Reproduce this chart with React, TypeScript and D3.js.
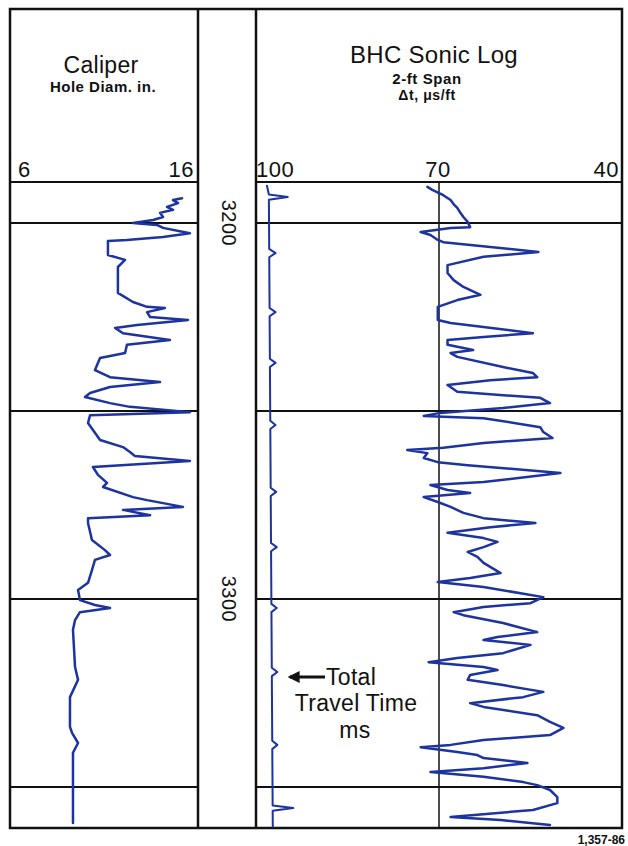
import React from "react";
import * as d3 from "d3";

// ---- Data ----
const caliperTicks = [6, 16];
const sonicTicks = [100, 70, 40];
const sonicGridValues = [70];
const gridDepths = [3200, 3250, 3300, 3350];
const depthLabels = [3200, 3300];

const caliperDepth = [
  3193.4, 3193.9, 3194.7, 3195.7, 3196.5, 3197.3, 3198.4, 3199.2, 3200.0, 3200.5,
  3201.3, 3202.7, 3203.7, 3204.5, 3204.8, 3208.5, 3209.8, 3211.7, 3218.6, 3221.0,
  3222.3, 3222.6, 3223.7, 3225.0, 3225.8, 3227.1, 3227.9, 3229.3, 3231.1, 3232.4,
  3234.6, 3235.9, 3239.1, 3241.0, 3242.3, 3243.6, 3245.2, 3246.3, 3247.9, 3248.9,
  3250.3, 3251.1, 3253.2, 3257.7, 3259.6, 3260.9, 3262.0, 3263.3, 3264.9, 3267.0,
  3269.1, 3270.2, 3272.9, 3273.7, 3275.5, 3276.3, 3277.7, 3278.5, 3279.8, 3284.3,
  3287.0, 3288.3, 3289.6, 3292.3, 3295.7, 3297.6, 3300.3, 3301.6, 3302.4, 3303.5,
  3305.6, 3308.2, 3318.1, 3321.5, 3326.1, 3334.0, 3335.6, 3338.3, 3340.9, 3348.9,
  3359.6,
];
const caliperIn = [
  15.15, 14.67, 14.94, 14.35, 14.67, 13.98, 14.14, 13.61, 12.54, 13.82,
  14.14, 15.57, 14.14, 12.22, 11.21, 11.21, 12.12, 11.74, 11.74, 12.54,
  13.29, 14.24, 13.29, 13.45, 15.47, 12.76, 11.59, 12.01, 14.51, 12.22,
  12.12, 10.79, 10.52, 11.32, 13.98, 11.32, 10.26, 9.99, 11.32, 12.38,
  15.57, 10.26, 10.15, 10.79, 12.01, 12.38, 12.65, 15.57, 10.41, 10.68,
  11.16, 10.95, 12.54, 13.29, 15.2, 12.01, 13.45, 10.15, 10.15, 10.36,
  11.05, 11.32, 10.52, 10.36, 10.15, 9.62, 9.72, 10.52, 11.32, 9.72,
  9.46, 9.35, 9.46, 9.62, 9.19, 9.19, 9.3, 9.62, 9.35, 9.35,
  9.35,
];

const sonicDepth = [
  3190.4, 3191.2, 3192.6, 3193.9, 3195.2, 3196.0, 3197.3, 3198.4, 3199.7, 3201.1,
  3201.3, 3202.4, 3203.2, 3204.5, 3205.1, 3207.7, 3209.0, 3211.2, 3213.3, 3215.2,
  3217.0, 3219.1, 3220.5, 3222.3, 3225.8, 3226.6, 3229.3, 3230.3, 3231.1, 3232.4,
  3233.8, 3234.6, 3235.6, 3238.3, 3239.9, 3241.0, 3241.8, 3243.1, 3244.9, 3246.5,
  3247.9, 3249.2, 3250.5, 3251.3, 3251.9, 3254.3, 3255.6, 3257.2, 3258.5, 3259.8,
  3260.4, 3261.2, 3262.5, 3263.6, 3264.4, 3266.5, 3268.9, 3269.7, 3271.0, 3271.8,
  3272.9, 3274.2, 3275.5, 3277.1, 3278.5, 3279.8, 3280.9, 3282.4, 3283.8, 3284.8,
  3286.2, 3287.5, 3288.8, 3290.4, 3293.1, 3294.4, 3295.5, 3296.8, 3299.5, 3301.1,
  3302.1, 3303.5, 3304.3, 3306.4, 3308.8, 3310.1, 3310.9, 3312.2, 3314.4, 3315.7,
  3316.8, 3318.1, 3318.9, 3320.2, 3321.5, 3322.9, 3324.7, 3326.1, 3327.7, 3328.7,
  3330.9, 3332.7, 3334.3, 3336.2, 3337.5, 3338.8, 3339.4, 3340.7, 3341.5, 3342.3,
  3343.6, 3345.0, 3346.0, 3347.3, 3348.7, 3349.5, 3350.8, 3352.7, 3354.3, 3356.1,
  3358.0, 3358.8, 3360.1,
];
const sonicDt = [
  71.9, 71.1, 69.3, 68.1, 67.5, 67.0, 66.5, 66.0, 65.3, 64.9,
  68.1, 73.0, 71.4, 70.2, 69.3, 53.7, 62.7, 68.6, 68.6, 67.6,
  66.0, 63.2, 67.0, 70.2, 70.2, 68.1, 54.6, 62.7, 68.6, 68.6,
  64.4, 68.1, 67.0, 59.5, 54.6, 53.9, 61.6, 68.6, 67.0, 53.4,
  51.8, 59.5, 69.8, 72.5, 62.7, 53.4, 52.9, 51.4, 62.7, 69.3,
  75.2, 71.9, 72.5, 70.2, 65.3, 50.1, 62.7, 71.4, 68.6, 64.9,
  72.5, 70.2, 68.1, 66.0, 62.7, 54.2, 61.6, 68.6, 62.7, 60.4,
  62.7, 65.3, 63.7, 62.7, 59.9, 64.9, 70.2, 62.7, 52.9, 55.0,
  62.7, 67.6, 66.0, 59.5, 53.9, 60.4, 62.7, 55.0, 59.5, 67.0,
  71.7, 62.7, 60.4, 64.9, 65.3, 59.5, 52.9, 56.2, 64.9, 62.7,
  53.9, 51.8, 49.6, 51.8, 62.7, 68.1, 73.0, 67.0, 63.7, 62.7,
  55.5, 62.7, 71.4, 62.7, 56.2, 53.9, 51.8, 50.6, 50.6, 54.6,
  68.1, 59.9, 51.8,
];

// Total travel time trace (plotted on the sonic track)
const tttBaseDepth = [3190.1, 3360.6];
const tttBaseValue = [97.9, 97.25];
const tttPipDepth = [3193.1, 3208.0, 3223.7, 3237.2, 3253.7, 3271.5, 3286.2, 3302.4, 3319.4, 3338.8, 3355.6];
const tttPipValue = [94.8, 96.8, 96.8, 96.8, 96.8, 96.7, 96.6, 96.6, 96.5, 96.5, 93.9];

// ---- Layout ----
const W = 628;
const H = 846;
const L = 10, T = 9, R = 622, B = 828, HB = 182;
const T1R = 198, T3L = 256;
const FONT = "'Liberation Sans', Arial, Helvetica, sans-serif";
const BLUE = "#1c33a0";

export default function App() {
  const y = d3.scaleLinear().domain([3200, 3300]).range([223, 599]);
  const xc = d3.scaleLinear().domain([6, 16]).range([L, T1R]);
  const xs = d3.scaleLinear().domain([100, 40]).range([T3L, R]);

  const caliperPts = caliperDepth.map((d, i) => [caliperIn[i], d] as [number, number]);
  const sonicPts = sonicDepth.map((d, i) => [sonicDt[i], d] as [number, number]);

  const base = d3.scaleLinear().domain(tttBaseDepth).range(tttBaseValue);
  const tttPts: [number, number][] = [[base(tttBaseDepth[0]) + 0.3, tttBaseDepth[0]]];
  tttPipDepth.forEach((d, i) => {
    const big = i === 0 || i === tttPipDepth.length - 1;
    const h = big ? 0.7 : 1.1;
    tttPts.push([base(d - h), d - h]);
    tttPts.push([tttPipValue[i], d]);
    tttPts.push([base(d + h), d + h]);
  });
  tttPts.push([base(tttBaseDepth[1]), tttBaseDepth[1]]);

  const lineC = d3.line<[number, number]>().x((p) => xc(p[0])).y((p) => y(p[1]));
  const lineS = d3.line<[number, number]>().x((p) => xs(p[0])).y((p) => y(p[1]));

  return (
    <svg width={W} height={H} style={{ position: "absolute", left: 0, top: 0, background: "#fff" }} fontFamily={FONT}>
      <defs>
        <clipPath id="clipC"><rect x={L} y={HB} width={T1R - L} height={B - HB} /></clipPath>
        <clipPath id="clipS"><rect x={T3L} y={HB} width={R - T3L} height={B - HB} /></clipPath>
        <marker id="arrow" viewBox="0 0 10 10" refX="8" refY="5" markerWidth="4" markerHeight="4" orient="auto">
          <path d="M0,0 L10,5 L0,10 z" fill="#111" />
        </marker>
      </defs>

      {/* grid lines */}
      {gridDepths.map((d) => (
        <g key={d} stroke="#111" strokeWidth={1.8}>
          <line x1={L} x2={T1R} y1={y(d)} y2={y(d)} />
          <line x1={T3L} x2={R} y1={y(d)} y2={y(d)} />
        </g>
      ))}
      {sonicGridValues.map((v) => (
        <line key={v} x1={xs(v)} x2={xs(v)} y1={HB} y2={B} stroke="#111" strokeWidth={1.5} />
      ))}

      {/* frame */}
      <g stroke="#111" fill="none">
        <rect x={L} y={T} width={R - L} height={B - T} strokeWidth={2.5} />
        <line x1={T1R} x2={T1R} y1={T} y2={B} strokeWidth={2.5} />
        <line x1={T3L} x2={T3L} y1={T} y2={B} strokeWidth={2.5} />
        <line x1={L} x2={T1R} y1={HB} y2={HB} strokeWidth={2.2} />
        <line x1={T3L} x2={R} y1={HB} y2={HB} strokeWidth={2.2} />
      </g>

      {/* headers */}
      <g fill="#111" textAnchor="middle">
        <text x={101} y={73} fontSize={23} letterSpacing={0.3}>Caliper</text>
        <text x={103} y={92} fontSize={15} fontWeight={700} letterSpacing={0.5}>Hole Diam. in.</text>
        <text x={434} y={63} fontSize={24} letterSpacing={0.3}>BHC Sonic Log</text>
        <text x={427} y={84} fontSize={15} fontWeight={700} letterSpacing={0.6}>2-ft Span</text>
        <text x={427} y={100} fontSize={14} fontWeight={700} letterSpacing={0.6}>Δt, μs/ft</text>
      </g>
      <g fill="#111" fontSize={22} letterSpacing={0.5}>
        {caliperTicks.map((v, i) => (
          <text key={v} x={xc(v) + (i === 0 ? 8 : -4)} y={177} textAnchor={i === 0 ? "start" : "end"}>{v}</text>
        ))}
        {sonicTicks.map((v, i) => (
          <text key={v} x={i === 0 ? xs(v) : i === sonicTicks.length - 1 ? xs(v) - 3 : xs(v) - 1} y={177}
            textAnchor={i === 0 ? "start" : i === sonicTicks.length - 1 ? "end" : "middle"}>{v}</text>
        ))}
      </g>

      {/* depth labels */}
      {depthLabels.map((d) => (
        <text key={d} transform={`translate(${(T1R + T3L) / 2 - 5},${y(d)}) rotate(90)`} textAnchor="middle"
          fontSize={20} letterSpacing={0.5} fill="#111">{d}</text>
      ))}

      {/* curves */}
      <g fill="none" stroke={BLUE} strokeWidth={2.5} strokeLinejoin="round" strokeLinecap="round">
        <path d={lineC(caliperPts) || ""} clipPath="url(#clipC)" />
        <path d={lineS(sonicPts) || ""} clipPath="url(#clipS)" />
        <path d={lineS(tttPts) || ""} clipPath="url(#clipS)" strokeWidth={2} />
      </g>

      {/* annotation */}
      <line x1={325} x2={290} y1={677} y2={677} stroke="#111" strokeWidth={3} markerEnd="url(#arrow)" />
      <g fill="#111" fontSize={23} letterSpacing={0.3}>
        <text x={326} y={685}>Total</text>
        <text x={356} y={711} textAnchor="middle">Travel Time</text>
        <text x={355} y={738} textAnchor="middle">ms</text>
      </g>
      <text x={625} y={844} textAnchor="end" fontSize={12} fontWeight={700} fill="#111">1,357-86</text>
    </svg>
  );
}
